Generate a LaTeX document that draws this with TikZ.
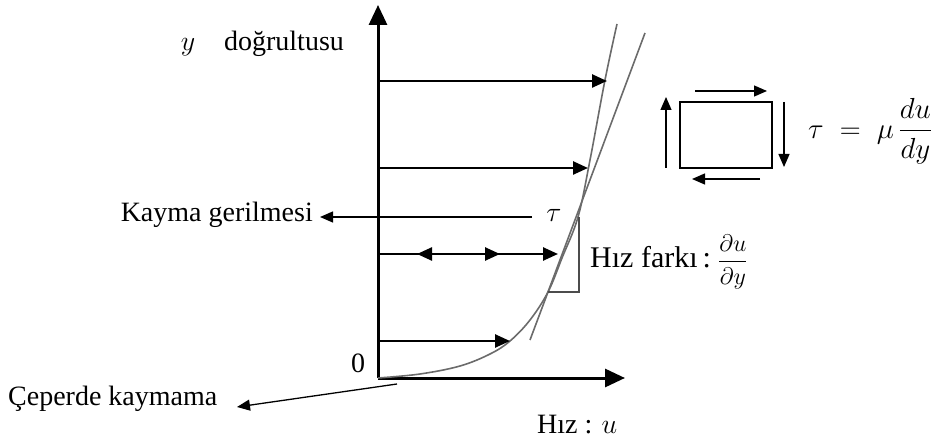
\RequirePackage{fix-cm}
\documentclass[tikz,border=0pt]{standalone}
\usepackage{amsmath}
\usepackage{fontspec}
\setmainfont{Liberation Serif}
\usetikzlibrary{arrows.meta}
\begin{document}
\begin{tikzpicture}[x=1pt,y=-1pt,
  axis/.style={line width=3pt,-{Triangle[length=20pt,width=18pt]}},
  vel/.style={line width=2.5pt,-{Triangle[length=15pt,width=13pt]}},
  head/.style={line width=2.5pt,-{Triangle[length=15pt,width=13pt]}},
  thinarr/.style={line width=1.3pt,-{Triangle[length=13pt,width=11pt]}},
  gline/.style={line width=1.6pt,draw=black!58},
  lbl/.style={inner sep=0pt,font=\fontsize{28}{32}\selectfont},
]
\useasboundingbox (0,0) rectangle (934,443);
% axes
\coordinate (O) at (378,378);
\coordinate (Ytop) at (378,5);
\coordinate (Xend) at (625,378);
\draw[axis] (O) -- (Ytop);
\draw[axis] (O) -- (Xend);
% velocity profile curve
\draw[gline] plot[smooth,tension=0.6] coordinates {(378,378) (420,374) (460,366) (490,354) (510,341) (530,320) (548,292) (562,258) (578,217) (590,160) (605,80) (617,24)};
% tangent
\coordinate (T1) at (530,340);
\coordinate (T2) at (645,33);
\draw[gline] (T1) -- (T2);
% triangle
\coordinate (Ra) at (579,217);
\coordinate (Rb) at (579,292);
\coordinate (Rc) at (548,292);
\draw[line width=1.3pt,draw=black!70] (Ra) -- (Rb) -- (Rc);
% velocity arrows
\coordinate (A1s) at (378,81); \coordinate (A1e) at (607,81);
\coordinate (A2s) at (378,168); \coordinate (A2e) at (588,168);
\coordinate (A3s) at (378,254); \coordinate (A3e) at (558,254);
\coordinate (A4s) at (378,341); \coordinate (A4e) at (510,341);
\draw[vel] (A1s) -- (A1e);
\draw[vel] (A2s) -- (A2e);
\draw[vel] (A3s) -- (A3e);
\draw[vel] (A4s) -- (A4e);
\coordinate (H1s) at (440,254); \coordinate (H1e) at (417,254);
\coordinate (H2s) at (480,254); \coordinate (H2e) at (500,254);
\draw[head] (H1s) -- (H1e);
\draw[head] (H2s) -- (H2e);
% shear stress label
\node[lbl,anchor=base east] (kg) at (313,222) {Kayma gerilmesi};
\coordinate (Ks) at (532,217);
\coordinate (Ke) at (320,217);
\draw[thinarr] (Ks) -- (Ke);
\node[lbl,anchor=base] (tau) at (554,222) {$\tau$};
% no slip
\node[lbl,anchor=base west] (cp) at (8,405) {Çeperde kaymama};
\coordinate (Cs) at (397,384);
\coordinate (Ce) at (237,407);
\draw[thinarr] (Cs) -- (Ce);
% labels
\node[lbl,anchor=base] (zero) at (358,373) {0};
\node[lbl,anchor=base] (ylab) at (188,51) {$y$};
\node[lbl,anchor=base] (dog) at (284,51) {doğrultusu};
\node[lbl,anchor=base west] (hiz) at (537,433) {Hız : $u$};
\node[inner sep=0pt,font=\fontsize{30}{34}\selectfont,anchor=base west] (hf) at (590,268) {Hız farkı\hspace{5pt}:};
\node[inner sep=0pt,font=\fontsize{24}{28}\selectfont,anchor=west] (dd) at (718,262) {$\dfrac{\partial u}{\partial y}$};
% element
\node[draw,line width=1.5pt,minimum width=92pt,minimum height=66pt,inner sep=0pt] (box) at (726,135) {};
\coordinate (Bt1) at (695,91); \coordinate (Bt2) at (767,91);
\coordinate (Br1) at (784,102); \coordinate (Br2) at (784,167);
\coordinate (Bb1) at (760,179); \coordinate (Bb2) at (692,179);
\coordinate (Bl1) at (666,168); \coordinate (Bl2) at (666,97);
\draw[thinarr] (Bt1) -- (Bt2);
\draw[thinarr] (Br1) -- (Br2);
\draw[thinarr] (Bb1) -- (Bb2);
\draw[thinarr] (Bl1) -- (Bl2);
\node[inner sep=0pt,font=\fontsize{29}{32}\selectfont,anchor=west] (eq) at (808,131) {$\tau\;=\;\mu\,\dfrac{du}{dy}$};
\end{tikzpicture}
\end{document}
